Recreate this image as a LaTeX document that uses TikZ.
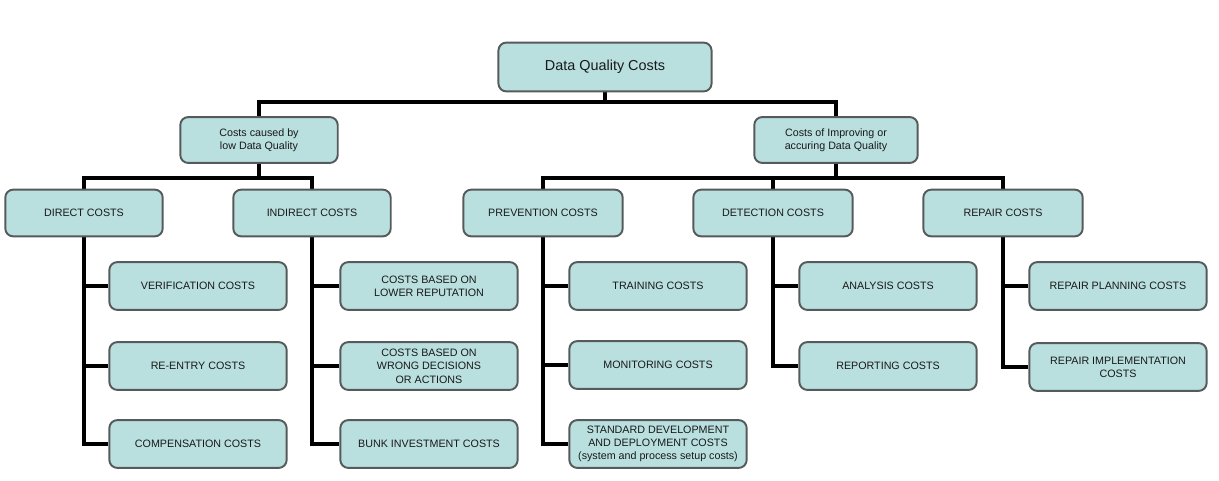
\documentclass[tikz,border=0pt]{standalone}
\usepackage{fontspec}
\setmainfont{Liberation Sans}
\usetikzlibrary{backgrounds}
\definecolor{boxfill}{HTML}{B9DFDF}
\definecolor{boxline}{HTML}{565A5A}
\tikzset{
  costbox/.style={draw=boxline, line width=1.1pt, fill=boxfill, rounded corners=4.5pt,
    align=center, inner sep=0pt, text=black!90, font=\fontsize{6.1}{7.6}\selectfont},
  mainbox/.style={costbox, minimum width=121.3pt, minimum height=27.8pt, font=\fontsize{8.2}{9.5}\selectfont},
  midbox/.style={costbox, minimum width=89.6pt, minimum height=26.1pt},
  kindbox/.style={costbox, minimum width=90.7pt, minimum height=26.6pt},
  leafbox/.style={costbox, minimum width=100.9pt, minimum height=27.2pt},
  link/.style={line width=2.7pt, line join=miter}
}
\begin{document}
\begin{tikzpicture}[x=0.02cm, y=-0.02cm]

\useasboundingbox (0,0) rectangle (1219,480);

\coordinate (topbus) at (605,102);
\coordinate (lowbus) at (259,178);
\coordinate (imprbus) at (836,178);

\node[mainbox] (top) at (605,67) {Data Quality Costs};

\node[midbox] (low) at (259,140) {Costs caused by\\low Data Quality};
\node[midbox, minimum width=93pt] (impr) at (836,140) {Costs of Improving or\\accuring Data Quality};

\node[kindbox, minimum width=89.6pt] (direct) at (84,213) {DIRECT COSTS};
\node[kindbox, minimum width=89.6pt] (indirect) at (312,213) {INDIRECT COSTS};
\node[kindbox] (prev) at (543,213) {PREVENTION COSTS};
\node[kindbox] (det) at (773,213) {DETECTION COSTS};
\node[kindbox] (rep) at (1003,213) {REPAIR COSTS};

\node[leafbox] (verif) at (198,286) {VERIFICATION COSTS};
\node[leafbox] (reentry) at (198,366) {RE-ENTRY COSTS};
\node[leafbox] (comp) at (198,444) {COMPENSATION COSTS};

\node[leafbox] (reput) at (429,286) {COSTS BASED ON\\LOWER REPUTATION};
\node[leafbox] (wrong) at (429,366) {COSTS BASED ON\\WRONG DECISIONS\\OR ACTIONS};
\node[leafbox] (bunk) at (429,444) {BUNK INVESTMENT COSTS};

\node[leafbox] (train) at (658,286) {TRAINING COSTS};
\node[leafbox] (monit) at (658,365) {MONITORING COSTS};
\node[leafbox] (stdd) at (658,444) {STANDARD DEVELOPMENT\\AND DEPLOYMENT COSTS\\(system and process setup costs)};

\node[leafbox] (anal) at (888,286) {ANALYSIS COSTS};
\node[leafbox] (report) at (888,366) {REPORTING COSTS};

\node[leafbox] (rplan) at (1118,286) {REPAIR PLANNING COSTS};
\node[leafbox] (rimpl) at (1118,367) {REPAIR IMPLEMENTATION\\COSTS};

% bars behind the boxes
\begin{scope}[on background layer]
\draw[link] (top.south) -- (topbus);
\draw[link] (low.north) |- (topbus) -| (impr.north);

\draw[link] (low.south) -- (lowbus);
\draw[link] (direct.north) |- (lowbus) -| (indirect.north);
\draw[link] (impr.south) -- (imprbus);
\draw[link] (prev.north) |- (imprbus) -| (rep.north);
\draw[link] (det.north) -- (det.north |- imprbus);

\draw[link] (direct.south) |- (verif.west);
\draw[link] (direct.south) |- (reentry.west);
\draw[link] (direct.south) |- (comp.west);

\draw[link] (indirect.south) |- (reput.west);
\draw[link] (indirect.south) |- (wrong.west);
\draw[link] (indirect.south) |- (bunk.west);

\draw[link] (prev.south) |- (train.west);
\draw[link] (prev.south) |- (monit.west);
\draw[link] (prev.south) |- (stdd.west);

\draw[link] (det.south) |- (anal.west);
\draw[link] (det.south) |- (report.west);

\draw[link] (rep.south) |- (rplan.west);
\draw[link] (rep.south) |- (rimpl.west);
\end{scope}

\end{tikzpicture}
\end{document}
